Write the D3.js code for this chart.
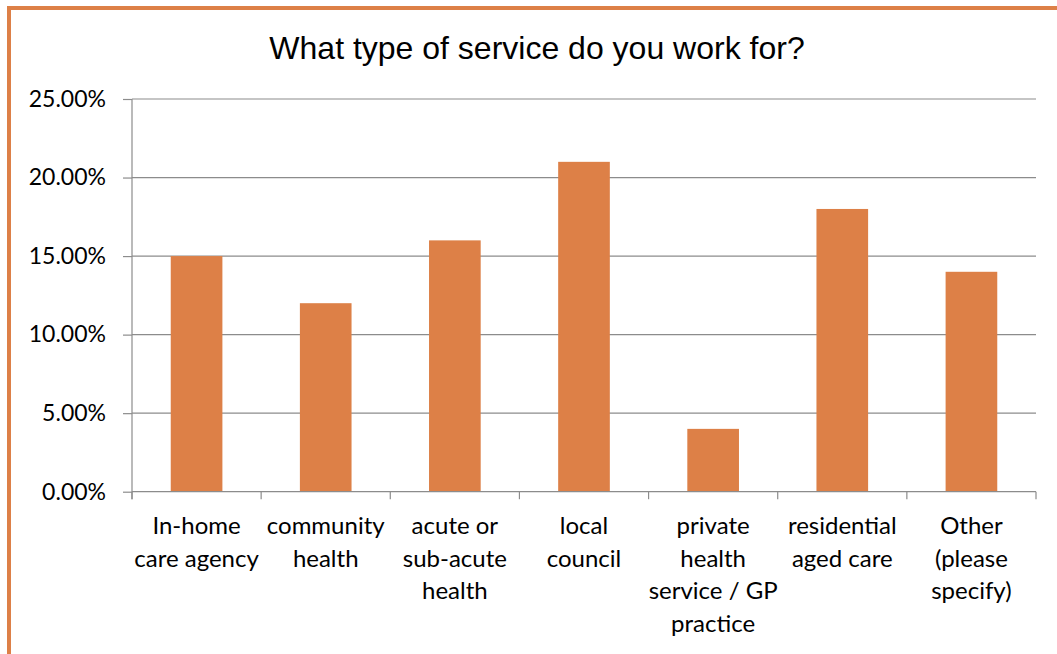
<!DOCTYPE html>
<html>
<head>
<meta charset="utf-8">
<script src="https://cdn.jsdelivr.net/npm/d3@7"></script>
<style>
  html, body { margin: 0; padding: 0; background: #fff; overflow: hidden; }
  svg { display: block; }
</style>
</head>
<body>
<div id="chart"></div>
<script>
  // data
  var title = "What type of service do you work for?";
  var categories = [
    "In-home\ncare agency",
    "community\nhealth",
    "acute or\nsub-acute\nhealth",
    "local\ncouncil",
    "private\nhealth\nservice / GP\npractice",
    "residential\naged care",
    "Other\n(please\nspecify)"
  ];
  var values = [0.15, 0.12, 0.16, 0.21, 0.04, 0.18, 0.14];
  var yTicks = [0, 0.05, 0.10, 0.15, 0.20, 0.25];

(function() {
  var W = 1057, H = 654;
  var orange = "#dd8047", grid = "#8c8c8c";
  var pLeft = 132, pRight = 1036, pTop = 99, pBottom = 491.7;

  var svg = d3.select("#chart").append("svg").attr("width", W).attr("height", H);

  // chart frame (runs off the right and bottom of the picture)
  svg.append("rect")
    .attr("x", 9).attr("y", 8).attr("width", 1200).attr("height", 800)
    .style("fill", "none").style("stroke", orange).style("stroke-width", 4);

  svg.append("text")
    .attr("x", 537).attr("y", 58.5)
    .attr("text-anchor", "middle")
    .style("font-family", "'Liberation Sans', Arial, sans-serif")
    .style("font-size", "32px")
    .style("fill", "#000")
    .text(title);

  var x = d3.scaleBand().domain(categories).range([pLeft, pRight]).padding(0);
  var y = d3.scaleLinear().domain([0, 0.25]).range([pBottom, pTop]);
  var bw = x.bandwidth();

  // gridlines
  svg.append("g").selectAll("line").data(yTicks.slice(1)).enter().append("line")
    .attr("x1", pLeft).attr("x2", pRight)
    .attr("y1", function(d) { return y(d); }).attr("y2", function(d) { return y(d); })
    .style("stroke", grid).style("stroke-width", 1.2);

  var yAxis = svg.append("g").attr("transform", "translate(" + pLeft + ",0)")
    .call(d3.axisLeft(y).tickValues(yTicks).tickFormat(d3.format(".2%")).tickSizeInner(9).tickSizeOuter(0).tickPadding(17));
  yAxis.select(".domain").remove();
  yAxis.selectAll(".tick line").style("stroke", grid).style("stroke-width", 1.2);
  yAxis.selectAll(".tick text")
    .style("font-family", "Lato, 'Open Sans', sans-serif")
    .style("font-size", "23px")
    .style("fill", "#000");

  // y axis line, running down past the baseline
  svg.append("line")
    .attr("x1", pLeft).attr("x2", pLeft).attr("y1", pTop).attr("y2", pBottom + 7.5)
    .style("stroke", grid).style("stroke-width", 1.2);

  // bars
  svg.append("g").selectAll("rect").data(values).enter().append("rect")
    .attr("x", function(d, i) { return x(categories[i]) + bw * 0.3; })
    .attr("width", bw * 0.4)
    .attr("y", function(d) { return y(d); })
    .attr("height", function(d) { return y(0) - y(d); })
    .style("fill", orange);

  // baseline and category boundary ticks
  svg.append("line")
    .attr("x1", pLeft).attr("x2", pRight).attr("y1", pBottom).attr("y2", pBottom)
    .style("stroke", grid).style("stroke-width", 1.2);
  var bounds = categories.map(function(c) { return x(c); }).concat([pRight]);
  svg.append("g").selectAll("line").data(bounds).enter().append("line")
    .attr("x1", function(d) { return d; }).attr("x2", function(d) { return d; })
    .attr("y1", pBottom).attr("y2", pBottom + 7.5)
    .style("stroke", grid).style("stroke-width", 1.2);

  // category labels
  var labels = svg.append("g").selectAll("text").data(categories).enter().append("text")
    .attr("text-anchor", "middle")
    .style("font-family", "Lato, 'Open Sans', sans-serif")
    .style("font-size", "24px")
    .style("fill", "#000");
  labels.each(function(c) {
    var t = d3.select(this);
    c.split("\n").forEach(function(line, j) {
      t.append("tspan")
        .attr("x", x(c) + bw / 2)
        .attr("y", 534 + j * 32.5)
        .text(line);
    });
  });
})();
</script>
</body>
</html>
